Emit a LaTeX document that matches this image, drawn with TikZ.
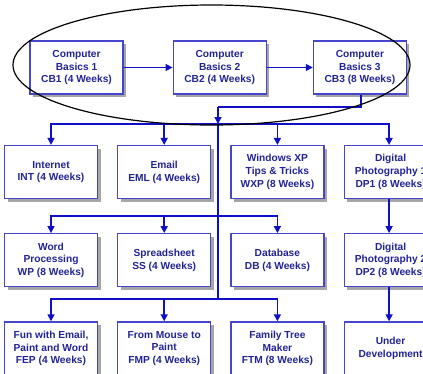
\documentclass[tikz,border=0pt]{standalone}
\usepackage{fontspec}
\setmainfont{Liberation Sans}
\usetikzlibrary{positioning, arrows.meta, shadows}
\definecolor{boxblue}{RGB}{70,70,205}
\definecolor{txtblue}{RGB}{35,35,150}
\definecolor{lineblue}{RGB}{15,15,200}

\begin{document}
\begin{tikzpicture}[x=1pt, y=-1pt, >={Triangle[length=7pt, width=7pt]}, node distance=19pt,
  every node/.style={font=\fontsize{10.2}{12.8}\selectfont\bfseries}]
  \tikzset{course/.style={draw=boxblue, line width=1.2pt, fill=white, text=txtblue,
      minimum width=93pt, minimum height=53pt, align=center, inner sep=1pt,
      drop shadow={shadow xshift=3pt, shadow yshift=-3pt, fill=black!35, opacity=1}},
    link/.style={draw=lineblue, line width=1.5pt}}
  \useasboundingbox (0,0) rectangle (423,373);

  % basics row
  \node[course] (cb1) at (76.5,67.5) {Computer\\Basics 1\\CB1 (4 Weeks)};
  \node[course, right=49pt of cb1] (cb2) {Computer\\Basics 2\\CB2 (4 Weeks)};
  \node[course, right=46pt of cb2] (cb3) {Computer\\Basics 3\\CB3 (8 Weeks)};

  % second row
  \node[course] (int) at (51,172) {Internet\\INT (4 Weeks)};
  \node[course, right=of int] (eml) {Email\\EML (4 Weeks)};
  \node[course, right=of eml] (wxp) {Windows XP\\Tips \& Tricks\\WXP (8 Weeks)};
  \node[course, right=of wxp] (dp1) {Digital\\Photography 1\\DP1 (8 Weeks)};

  % third row
  \node[course, below=34pt of int] (wp) {Word\\Processing\\WP (8 Weeks)};
  \node[course, below=34pt of eml] (ss) {Spreadsheet\\SS (4 Weeks)};
  \node[course, below=34pt of wxp] (db) {Database\\DB (4 Weeks)};
  \node[course, below=34pt of dp1] (dp2) {Digital\\Photography 2\\DP2 (8 Weeks)};

  % fourth row
  \node[course, below=34pt of wp] (fep) {Fun with Email,\\Paint and Word\\FEP (4 Weeks)};
  \node[course, below=34pt of ss] (fmp) {From Mouse to\\Paint\\FMP (4 Weeks)};
  \node[course, below=34pt of db] (ftm) {Family Tree\\Maker\\FTM (8 Weeks)};
  \node[course, below=34pt of dp2] (und) {Under\\Development};

  \draw[link, ->] (cb1) -- (cb2);
  \draw[link, ->] (cb2) -- (cb3);

  % trunk and buses
  \coordinate (turn) at (218,107);
  \coordinate (bus1) at (218,124);
  \coordinate (bus2) at (218,216);
  \coordinate (bus3) at (218,299);
  \draw[link] (cb3.south -| 361,0) |- (turn);
  \draw[link, ->] (turn) -- (bus1);
  \draw[link] (bus1) -- (bus3);
  \draw[link, ->] (bus1) -| (int.north);
  \draw[link, ->] (bus1) -| (eml.north);
  \draw[link, ->] (bus1) -| (wxp.north);
  \draw[link, ->] (bus1) -| ([xshift=-1.5pt]dp1.north);
  \draw[link, ->] (bus2) -| (wp.north);
  \draw[link, ->] (bus2) -| (ss.north);
  \draw[link, ->] (bus2) -| (db.north);
  \draw[link, ->] (bus3) -| (fep.north);
  \draw[link, ->] (bus3) -| (fmp.north);
  \draw[link, ->] (bus3) -| (ftm.north);
  \draw[link, ->] ([xshift=-1.5pt]dp1.south) -- ([xshift=-1.5pt]dp2.north);
  \draw[link, ->] ([xshift=-1.5pt]dp2.south) -- ([xshift=-1.5pt]und.north);

  % ring round the basics
  \draw[line width=1.2pt] (211.5,65) ellipse [x radius=198.5, y radius=60];
\end{tikzpicture}
\end{document}
